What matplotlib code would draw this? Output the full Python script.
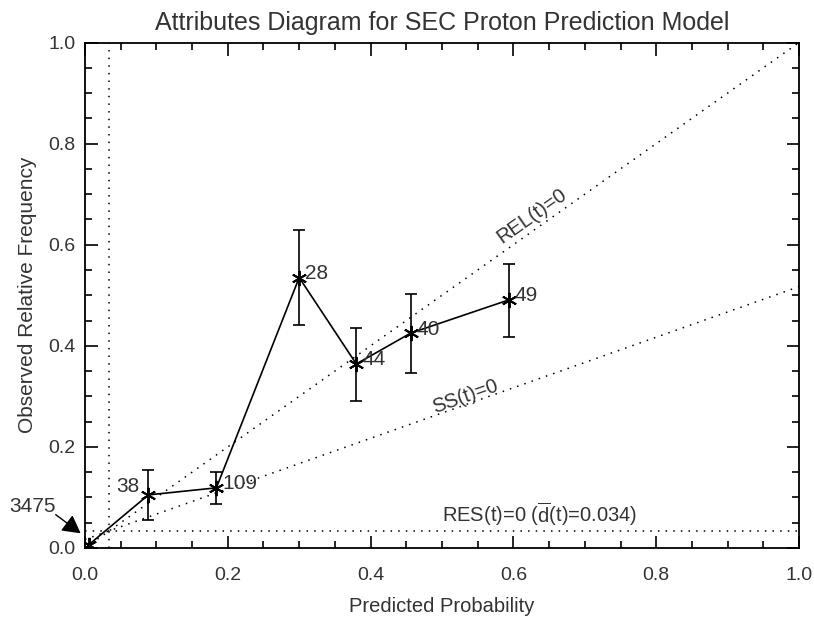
import matplotlib.pyplot as plt
import numpy as np

plt.rcParams['font.family'] = ['Liberation Sans', 'DejaVu Sans']
plt.rcParams['mathtext.fontset'] = 'custom'
plt.rcParams['mathtext.rm'] = 'Liberation Sans'

# reliability points (forecast prob, observed freq, error bar limits, counts)
pred_prob = [0.005, 0.0887, 0.184, 0.300, 0.380, 0.456, 0.594]
obs_freq = [0.006, 0.105, 0.119, 0.535, 0.364, 0.425, 0.491]
err_low = [0.006, 0.055, 0.087, 0.442, 0.290, 0.347, 0.418]
err_high = [0.006, 0.154, 0.150, 0.629, 0.435, 0.502, 0.561]
counts = ['3475', '38', '109', '28', '44', '40', '49']
climatology = 0.034

text_col = '#333333'

fig = plt.figure(figsize=(8.14, 6.18), dpi=100)
ax = fig.add_axes([0.1044, 0.1133, 0.8772, 0.8179])

x = np.array(pred_prob)
y = np.array(obs_freq)
yerr = [y - np.array(err_low), np.array(err_high) - y]

ax.errorbar(x[1:], y[1:], yerr=[yerr[0][1:], yerr[1][1:]], fmt='none',
            ecolor='black', elinewidth=1.2, capsize=4.5, capthick=1.2)
ax.plot(x, y, color='black', lw=1.2, marker=(6, 2, 0), ms=11, mew=1.4)

# reference lines
dots = (0, (1, 4))
xx = np.array([0, 1])
ax.plot(xx, xx, color='black', lw=1.1, ls=dots)
ax.plot(xx, (xx + climatology) / 2, color='black', lw=1.1, ls=dots)
ax.axhline(climatology, color='black', lw=1.1, ls=dots)
ax.axvline(climatology, color='black', lw=1.1, ls=dots)

# count labels
for i in range(1, len(x)):
    if i == 1:
        ax.text(x[i] - 0.012, y[i] + 0.016, counts[i], ha='right', va='center',
                fontsize=15, color=text_col)
    else:
        ax.text(x[i] + 0.008, y[i] + 0.008, counts[i], ha='left', va='center',
                fontsize=15, color=text_col)
ax.text(-0.073, 0.083, counts[0], ha='center', va='center', fontsize=15,
        color=text_col, clip_on=False)
ax.annotate('', xy=(-0.006, 0.029), xytext=(-0.041, 0.066),
            annotation_clip=False,
            arrowprops=dict(arrowstyle='-|>,head_length=0.55,head_width=0.3',
                            color='black', lw=1, mutation_scale=20,
                            shrinkA=0, shrinkB=0))

ax.text(0.626, 0.657, 'REL(t)=0', rotation=35.3, rotation_mode='anchor',
        ha='center', va='center', fontsize=14.5, color=text_col)
ax.text(0.532, 0.299, 'SS(t)=0', rotation=19.5, rotation_mode='anchor',
        ha='center', va='center', fontsize=14.5, color=text_col)
ax.text(0.5, 0.039, r'RES(t)=0 ($\overline{\mathrm{d}}$(t)=0.034)',
        ha='left', va='bottom', fontsize=14.5, color=text_col)

ax.set_xlim(0, 1)
ax.set_ylim(0, 1)
ax.set_xticks(np.arange(0, 1.01, 0.2))
ax.set_yticks(np.arange(0, 1.01, 0.2))
ax.set_xticks(np.arange(0, 1.01, 0.05), minor=True)
ax.set_yticks(np.arange(0, 1.01, 0.05), minor=True)
ax.tick_params(which='both', direction='in', top=True, right=True,
               colors='black', labelcolor=text_col, labelsize=14, width=1.2)
ax.tick_params(which='major', length=9)
ax.tick_params(which='minor', length=5)
ax.tick_params(axis='x', pad=14)
ax.tick_params(axis='y', pad=7)
ax.xaxis.set_major_formatter(plt.FormatStrFormatter('%.1f'))
ax.yaxis.set_major_formatter(plt.FormatStrFormatter('%.1f'))
for s in ax.spines.values():
    s.set_linewidth(1.3)

ax.set_xlabel('Predicted Probability', fontsize=14.5, color=text_col, labelpad=9)
ax.set_ylabel('Observed Relative Frequency', fontsize=15, color=text_col, labelpad=8)
ax.set_title('Attributes Diagram for SEC Proton Prediction Model', fontsize=18,
             color=text_col, pad=9)

plt.savefig('out.png', dpi=100)
